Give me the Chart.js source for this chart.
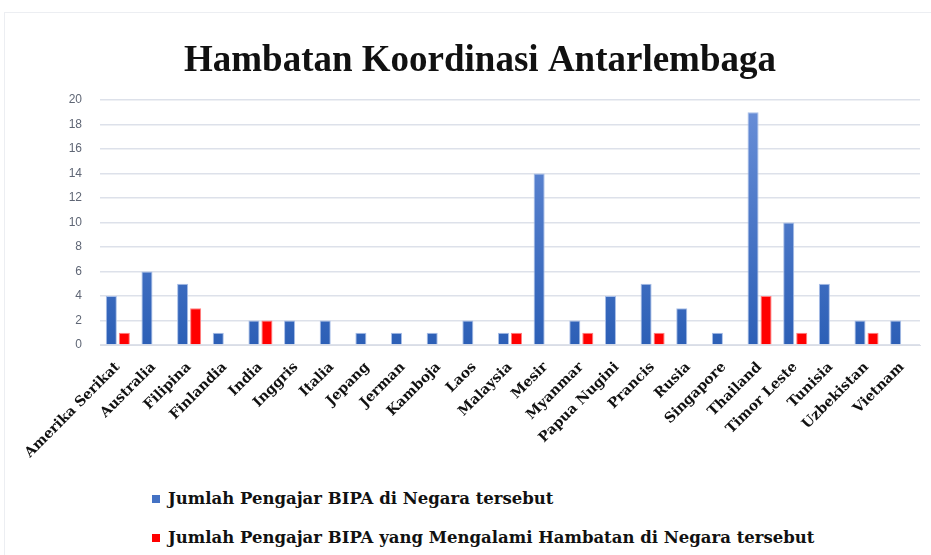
<!DOCTYPE html>
<html>
<head>
<meta charset="utf-8">
<script src="https://cdn.jsdelivr.net/npm/chart.js@4/dist/chart.umd.min.js"></script>
<style>
  html, body { margin: 0; padding: 0; background: #fff; }
  body { width: 931px; height: 555px; position: relative; overflow: hidden; }
  .frame {
    position: absolute; left: 4px; top: 12px; width: 940px; height: 560px;
    border-left: 1px solid #eceef2; border-top: 1px solid #eceef2;
  }
  .chart-box { position: absolute; left: 0; top: 0; width: 931px; height: 470px; }
  #legend {
    position: absolute; left: 152px; top: 479px;
    font: bold 16.5px "DejaVu Serif", serif; color: #111;
  }
  #legend .item { display: flex; align-items: center; height: 39px; }
  #legend .box { width: 8px; height: 8px; margin-right: 8px; }
</style>
</head>
<body>
<div class="frame"></div>
<div class="chart-box"><canvas id="chart"></canvas></div>
<div id="legend"></div>

<script>
// ========================
// DATA
// ========================

const countries = [
  "Amerika Serikat", "Australia", "Filipina", "Finlandia", "India", "Inggris",
  "Italia", "Jepang", "Jerman", "Kamboja", "Laos", "Malaysia", "Mesir",
  "Myanmar", "Papua Nugini", "Prancis", "Rusia", "Singapore", "Thailand",
  "Timor Leste", "Tunisia", "Uzbekistan", "Vietnam"
];

// blue series: teachers in the country
const teachers = [4, 6, 5, 1, 2, 2, 2, 1, 1, 1, 2, 1, 14, 2, 4, 5, 3, 1, 19, 10, 5, 2, 2];

// red series: teachers who faced obstacles (null = no bar)
const withObstacles = [1, null, 3, null, 2, null, null, null, null, null, null, 1, null,
  1, null, 1, null, null, 4, 1, null, 1, null];

const seriesLabels = [
  "Jumlah Pengajar BIPA di Negara tersebut",
  "Jumlah Pengajar BIPA yang Mengalami Hambatan di Negara tersebut"
];

const yTicks = [0, 2, 4, 6, 8, 10, 12, 14, 16, 18, 20];

// ========================
// CHART
// ========================

function blueGradient(context) {
  const chart = context.chart;
  const area = chart.chartArea;
  if (!area) return '#4472c4';
  const g = chart.ctx.createLinearGradient(0, area.top, 0, area.bottom);
  g.addColorStop(0, '#6a8fd8');
  g.addColorStop(1, '#2c5fb6');
  return g;
}

const chart = new Chart(document.getElementById('chart'), {
  type: 'bar',
  data: {
    labels: countries,
    datasets: [
      {
        label: seriesLabels[0],
        data: teachers,
        backgroundColor: blueGradient,
        borderColor: '#a9bfe8',
        borderWidth: 1,
        legendColor: '#4472c4'
      },
      {
        label: seriesLabels[1],
        data: withObstacles,
        backgroundColor: '#ff0000',
        borderColor: '#ff8080',
        borderWidth: 1,
        legendColor: '#ff0000'
      }
    ]
  },
  options: {
    responsive: true,
    maintainAspectRatio: false,
    animation: false,
    categoryPercentage: 0.73,
    barPercentage: 0.85,
    layout: { padding: { left: 40, right: 11, top: 22, bottom: 0 } },
    plugins: {
      legend: { display: false },
      tooltip: { enabled: false },
      title: {
        display: true,
        text: 'Hambatan Koordinasi Antarlembaga',
        color: '#111',
        font: { family: 'Liberation Serif', size: 37, weight: 'bold' },
        padding: { top: 17, bottom: 16.6 }
      }
    },
    scales: {
      x: {
        grid: { display: false, drawTicks: false },
        border: { color: '#d9dde6', width: 1 },
        afterFit: axis => { axis.height = 125; },
        ticks: {
          autoSkip: false,
          minRotation: 45,
          maxRotation: 45,
          padding: 14,
          color: '#111',
          font: { family: 'DejaVu Serif', size: 14, weight: 'bold' }
        }
      },
      y: {
        min: 0,
        max: 20,
        afterBuildTicks: axis => { axis.ticks = yTicks.map(v => ({ value: v })); },
        afterFit: axis => { axis.width = 60; },
        grid: { color: '#dde1ea', lineWidth: 1.5, drawTicks: false },
        border: { display: false },
        ticks: {
          padding: 18,
          color: '#5f6675',
          font: { family: 'Liberation Sans', size: 12 }
        }
      }
    }
  }
});

// HTML legend so both rows start at the same left edge
const legendEl = document.getElementById('legend');
chart.data.datasets.forEach(ds => {
  const item = document.createElement('div');
  item.className = 'item';
  const box = document.createElement('span');
  box.className = 'box';
  box.style.background = ds.legendColor;
  const text = document.createElement('span');
  text.textContent = ds.label;
  item.appendChild(box);
  item.appendChild(text);
  legendEl.appendChild(item);
});
</script>
</body>
</html>
